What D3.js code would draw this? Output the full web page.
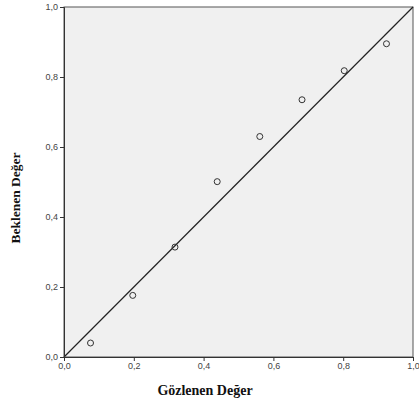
<!DOCTYPE html>
<html>
<head>
<meta charset="utf-8">
<script src="https://cdn.jsdelivr.net/npm/d3@7"></script>
<style>
  body { margin: 0; background: #fff; }
  .tick text { font-family: "Liberation Sans", Arial, sans-serif; font-size: 9px; fill: #444; }
  .title { font-family: "Liberation Serif", "Times New Roman", serif; font-weight: bold; fill: #111; }
</style>
</head>
<body>
<div id="vis"></div>
<script>
var observed = [0.076, 0.197, 0.318, 0.439, 0.561, 0.682, 0.803, 0.924];
var expected = [0.040, 0.176, 0.314, 0.501, 0.630, 0.735, 0.818, 0.895];
var tickVals = [0, 0.2, 0.4, 0.6, 0.8, 1.0];

var w = 419, h = 407;
var pLeft = 64, pRight = 413, pTop = 7, pBottom = 357;

var svg = d3.select("#vis").append("svg")
  .attr("width", w)
  .attr("height", h);

var x = d3.scaleLinear().domain([0, 1]).range([pLeft, pRight]);
var y = d3.scaleLinear().domain([0, 1]).range([pBottom, pTop]);
var fmt = function(d) { return d3.format(".1f")(d).replace(".", ","); };

svg.append("rect")
  .attr("x", pLeft).attr("y", pTop)
  .attr("width", pRight - pLeft).attr("height", pBottom - pTop)
  .attr("fill", "#f0f0f0")
  .attr("stroke", "#555").attr("stroke-width", 1);

// reference line
svg.append("line")
  .attr("x1", x(0)).attr("y1", y(0))
  .attr("x2", x(1)).attr("y2", y(1))
  .attr("stroke", "#222").attr("stroke-width", 1.2);

var xAxis = svg.append("g")
  .attr("transform", "translate(0," + pBottom + ")")
  .call(d3.axisBottom(x).tickValues(tickVals).tickFormat(fmt).tickSize(4).tickPadding(2));
var yAxis = svg.append("g")
  .attr("transform", "translate(" + pLeft + ",0)")
  .call(d3.axisLeft(y).tickValues(tickVals).tickFormat(fmt).tickSize(4).tickPadding(2));
[xAxis, yAxis].forEach(function(a) {
  a.select(".domain").attr("stroke", "#333");
  a.selectAll(".tick line").attr("stroke", "#333");
});

svg.selectAll("circle").data(observed).enter().append("circle")
  .attr("cx", function(d) { return x(d); })
  .attr("cy", function(d, i) { return y(expected[i]); })
  .attr("r", 3)
  .attr("fill", "none")
  .attr("stroke", "#333")
  .attr("stroke-width", 1);

svg.append("text").attr("class", "title")
  .attr("x", 205).attr("y", 395)
  .attr("text-anchor", "middle")
  .style("font-size", "14px")
  .text("Gözlenen Değer");

svg.append("text").attr("class", "title")
  .attr("transform", "translate(20,198) rotate(-90)")
  .attr("text-anchor", "middle")
  .style("font-size", "13.5px")
  .text("Beklenen Değer");
</script>
</body>
</html>
